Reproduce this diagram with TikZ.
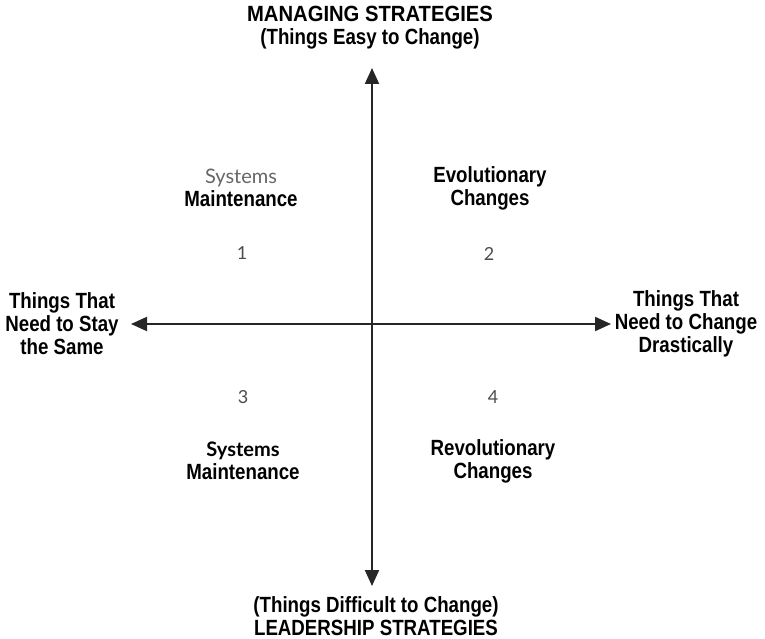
\documentclass[tikz,border=0pt]{standalone}
\usepackage{fontspec}
\setmainfont{Liberation Sans}
\newfontfamily\condfont[FakeStretch=0.85]{Liberation Sans}
\newfontfamily\headfont[FakeStretch=0.92]{Liberation Sans}
\newfontfamily\gillfont{Lato}
\usetikzlibrary{arrows.meta}

\begin{document}
\begin{tikzpicture}[x=1pt,y=-1pt,
  lbl/.style={font=\condfont\bfseries\fontsize{22}{23}\selectfont, align=center, inner sep=0pt},
  head/.style={font=\headfont\bfseries\fontsize{22}{23}\selectfont, align=center, inner sep=0pt},
  num/.style={font=\gillfont\fontsize{18}{22}\selectfont, text=black!70, inner sep=0pt},
  axis/.style={line width=2pt, draw=black!85, {Triangle[width=14pt,length=16pt]}-{Triangle[width=14pt,length=16pt]}}
]
\useasboundingbox (0,0) rectangle (765,639);
\fill[white] (0,0) rectangle (765,639);

% axis titles
\node[head] (top) at (370,28) {MANAGING STRATEGIES\\{\condfont(Things Easy to Change)}};
\node[lbl] (bottom) at (376,616) {(Things Difficult to Change)\\LEADERSHIP STRATEGIES};
\node[lbl] (left) at (62,324) {Things That\\Need to Stay\\the Same};
\node[lbl] (right) at (686,324) {Things That\\Need to Change\\Drastically};

% arrow tips
\coordinate (ytop) at (372,68);
\coordinate (ybot) at (372,586);
\coordinate (xleft) at (131,324);
\coordinate (xright) at (611,324);

\draw[axis] (ybot) -- (ytop);
\draw[axis] (xleft) -- (xright);

% quadrants
\node[lbl] (q1) at (241,188) {{\gillfont\mdseries\fontsize{20}{23}\selectfont\textcolor{black!60}{Systems}}\\Maintenance};
\node[num] (n1) at (242,253) {1};
\node[lbl] (q2) at (490,188) {Evolutionary\\Changes};
\node[num] (n2) at (489,254) {2};
\node[num] (n3) at (243,397) {3};
\node[num] (n4) at (493,397) {4};
\node[lbl] (q3) at (243,461) {{\gillfont\fontsize{20}{23}\selectfont Systems}\\Maintenance};
\node[lbl] (q4) at (493,461) {Revolutionary\\Changes};
\end{tikzpicture}
\end{document}
